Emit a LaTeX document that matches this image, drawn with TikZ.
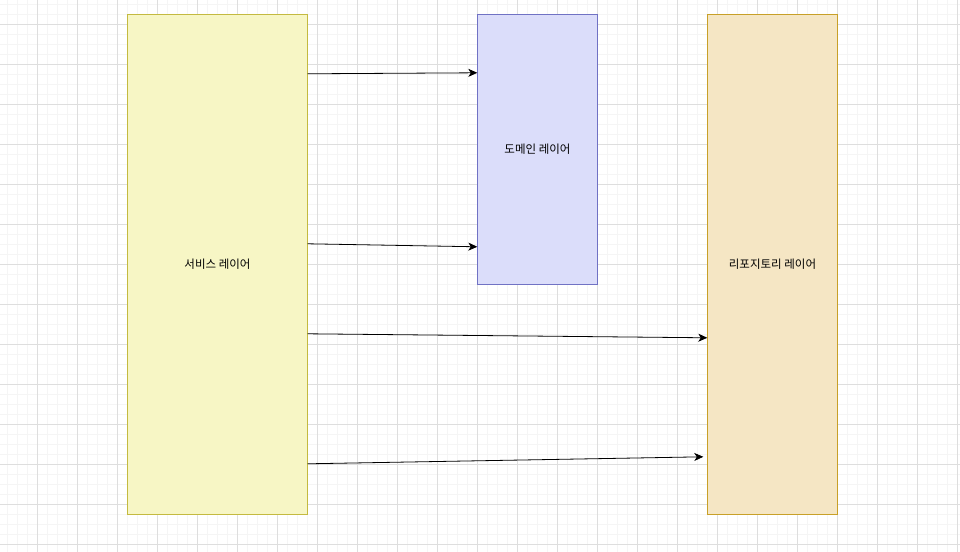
\documentclass[tikz,border=0pt]{standalone}
\usepackage{fontspec}
\setmainfont{Noto Sans CJK KR}
\usetikzlibrary{arrows.meta}

\definecolor{svcfill}{RGB}{247,246,197}
\definecolor{svcline}{RGB}{196,186,64}
\definecolor{domfill}{RGB}{219,221,250}
\definecolor{domline}{RGB}{112,114,196}
\definecolor{repofill}{RGB}{245,230,196}
\definecolor{repoline}{RGB}{200,160,40}

\tikzset{
  layer/.style={rectangle, draw, inner sep=0pt, font=\fontsize{11.5}{14}\selectfont},
  call/.style={-{Stealth[length=9pt, width=8pt, inset=2.5pt]}, line width=0.8pt}
}

\begin{document}
\begin{tikzpicture}[x=1pt, y=1pt]
  \useasboundingbox (0, 0) rectangle (960, 551);
  \fill[white] (0, 0) rectangle (960, 551);

  \begin{scope}
    \clip (0, 0) rectangle (960, 551);
    \draw[black!4, shift={(7, 7)}, step=10] (-10, -10) grid (960, 560);
    \draw[black!13, shift={(37, 7)}, step=40] (-40, -40) grid (960, 560);
  \end{scope}

  \node[layer, fill=svcfill, draw=svcline, minimum width=180, minimum height=500] (service) at (217.5, 287) {서비스 레이어};
  \node[layer, fill=domfill, draw=domline, minimum width=120, minimum height=270] (domain) at (537.5, 402) {도메인 레이어};
  \node[layer, fill=repofill, draw=repoline, minimum width=130, minimum height=500] (repo) at (772.5, 287) {리포지토리 레이어};

  \draw[call] ([yshift=-60]service.north east) -- ([yshift=-59]domain.north west);
  \draw[call] ([yshift=-230]service.north east) -- ([yshift=-233]domain.north west);
  \draw[call] ([yshift=-320]service.north east) -- ([yshift=-324]repo.north west);
  \draw[call] ([yshift=-450]service.north east) -- ([xshift=-4, yshift=-443]repo.north west);
\end{tikzpicture}
\end{document}
